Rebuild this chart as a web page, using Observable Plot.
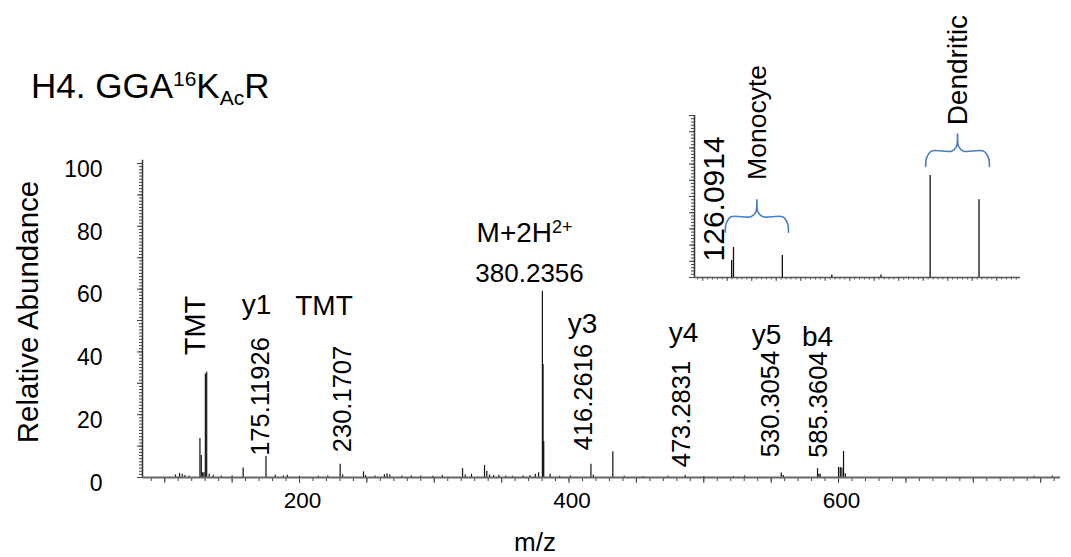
<!DOCTYPE html>
<html>
<head>
<meta charset="utf-8">
<script src="https://cdn.jsdelivr.net/npm/d3@7"></script>
<script src="https://cdn.jsdelivr.net/npm/@observablehq/plot@0.6"></script>
<style>
  html, body { margin: 0; padding: 0; background: #fff; }
  body { width: 1071px; height: 557px; overflow: hidden; font-family: "Liberation Sans", Arial, sans-serif; }
  #wrap { position: relative; width: 1071px; height: 557px; }
  #wrap svg { position: absolute; overflow: visible; }
  .lbl { position: absolute; color: #000; white-space: nowrap; line-height: 1; }
</style>
</head>
<body>
<div id="wrap">
  <div class="lbl" id="title" style="left:31px; top:68px; font-size:35px;">H4. GGA<span style="font-size:21px; position:relative; top:-12px;">16</span>K<span style="font-size:21px; position:relative; top:7px;">Ac</span>R</div>
  <div class="lbl" id="ylab" style="left:28px; top:312px; font-size:29.5px; transform: translate(-50%,-50%) rotate(-90deg); transform-origin: center;">Relative Abundance</div>
  <div class="lbl" id="xlab" style="left:535px; top:542px; font-size:26px; transform: translate(-50%,-50%);">m/z</div>
</div>
<script>
// ---------- main spectrum (m/z, relative abundance %) ----------
const mainMz = [108, 111, 113, 115, 118, 126.1277, 127.1248, 128.1344, 129.1378, 130.1411, 131.1382, 133, 136, 142, 150,
  158.2, 175.11926, 182, 188, 191, 200, 214, 221, 230.1707, 232, 247.5, 249, 256, 263, 265, 267, 276, 283, 290, 299, 306,
  321, 323, 327.6, 337.3, 339, 341, 344, 348, 353, 358, 366, 371, 375, 377.4, 380.2356, 380.7372, 381.2388, 386, 393, 401,
  416.2616, 418, 432.5, 441, 455, 473.2831, 486.2, 500, 522, 530.3054, 557.5, 559, 584.4, 585.3604, 586.4,
  600, 601.3, 602.5, 603.7, 605, 745, 758.6];
const mainInt = [0.8, 1.3, 1.0, 0.6, 0.5, 12.4, 7.0, 1.5, 1.5, 33.0, 33.5, 1.0, 0.6, 0.5, 0.5,
  3.0, 6.7, 0.7, 0.5, 0.7, 0.4, 0.4, 0.5, 4.2, 0.8, 1.8, 0.6, 0.5, 0.9, 1.1, 0.8, 0.5, 0.5, 0.5, 0.4, 0.6,
  2.8, 0.8, 1.0, 3.8, 2.0, 0.8, 0.6, 0.7, 0.5, 0.4, 0.5, 0.6, 1.0, 1.5, 59.3, 36.0, 11.5, 1.0, 0.4, 0.5,
  4.2, 0.7, 8.2, 0.4, 0.3, 0.4, 0.6, 0.3, 0.3, 0.5, 1.4, 0.6, 2.8, 1.0, 1.0,
  3.2, 3.2, 3.0, 8.3, 1.2, 0.4, 0.5];

// annotations of the main spectrum: text, anchor m/z, anchor abundance, rotated?, font size
const annText = ["TMT", "y1", "TMT", "175.11926", "230.1707", "M+2H2+", "380.2356", "y3", "416.2616", "y4", "473.2831", "y5", "530.3054", "b4", "585.3604"];
const annMz   = [122.8, 168.1, 218.2, 171.1, 231.9, 367.0, 370.7, 410.0, 410.8, 485.0, 483.5, 546.6, 549.6, 584.4, 585.2];
const annAb   = [48.4, 54.8, 54.6, 25.8, 25.0, 77.7, 65.0, 49.0, 25.6, 45.9, 20.2, 45.5, 23.4, 44.6, 23.2];
const annRot  = [true, false, false, true, true, false, false, false, true, false, true, false, true, false, true];
const annSize = [29, 28, 28, 25.5, 25.5, 28, 26, 28, 25.5, 28, 25.5, 28, 25.5, 28, 25.5];

// ---------- inset: TMT reporter region ----------
const insetMz  = [126.09, 126.1277, 127.1248, 128.1344, 129.1378, 130.1411, 131.1382];
const insetInt = [10.5, 18.5, 13.6, 1.5, 1.5, 63, 48];
const insetText = ["126.0914", "Monocyte", "Dendritic"];
const insetTextMz = [125.74, 126.62, 130.70];
const insetTextAb = [48.5, 95.7, 128];
const insetTextSize = [30, 26.5, 28];
// braces: name, from m/z, to m/z, base level
const braceName = ["Monocyte", "Dendritic"];
const braceFrom = [125.96, 130.05];
const braceTo   = [127.25, 131.35];
const braceBase = [28, 68.5];

// axis tick definitions
const xTickLabels = [200, 400, 600];
const yTickLabels = [0, 20, 40, 60, 80, 100];

const FONT = '"Liberation Sans", Arial, sans-serif';
const xDomain = [83.5, 764.7];

const peaks = mainMz.map((m, i) => ({mz: m, ab: mainInt[i]}));
const ann = annText.map((t, i) => ({t, mz: annMz[i], ab: annAb[i], rot: annRot[i], size: annSize[i]}));

const main = Plot.plot({
  width: 1071, height: 557,
  marginTop: 163, marginBottom: 80, marginLeft: 142, marginRight: 11,
  style: {fontFamily: FONT, color: "#000", background: "transparent", overflow: "visible"},
  x: {domain: xDomain},
  y: {domain: [0, 100]},
  marks: [
    Plot.axisY({ticks: d3.range(0, 101, 1), tickSize: 3, tickFormat: () => "", stroke: "#444", label: null}),
    Plot.axisY({ticks: d3.range(0, 101, 10), tickSize: 5, tickFormat: () => "", stroke: "#444", label: null}),
    Plot.axisY({ticks: yTickLabels, tickSize: 0, tickPadding: 40, fontSize: 23, dy: 6, label: null}),
    Plot.axisX({ticks: d3.range(90, 761, 10), tickSize: 4, tickFormat: () => "", stroke: "#444", label: null}),
    Plot.axisX({ticks: d3.range(100, 761, 50), tickSize: 6, tickFormat: () => "", stroke: "#444", label: null}),
    Plot.axisX({ticks: xTickLabels, tickSize: 0, tickPadding: 15, fontSize: 22.5, dx: 3, label: null}),
    Plot.ruleX([xDomain[0]], {y1: 0, y2: 101, stroke: "#333", strokeWidth: 1.5}),
    Plot.ruleX(peaks, {x: "mz", y1: 0, y2: "ab", stroke: "#111", strokeWidth: 1.2}),
    Plot.ruleY([0], {stroke: "#666", strokeWidth: 2}),
    Plot.text(ann.filter(d => d.rot), {x: "mz", y: "ab", text: "t", rotate: -90, fontSize: d => d.size, textAnchor: "middle", lineAnchor: "middle", fill: "#000"}),
    Plot.text(ann.filter(d => !d.rot), {x: "mz", y: "ab", text: "t", fontSize: d => d.size, textAnchor: "middle", lineAnchor: "middle", fill: "#000"})
  ]
});
main.style.left = "0px"; main.style.top = "0px";
document.getElementById("wrap").appendChild(main);

// superscript for M+2H2+
main.querySelectorAll("text").forEach(t => {
  if (t.textContent === "M+2H2+") {
    t.textContent = "M+2H";
    const ts = document.createElementNS("http://www.w3.org/2000/svg", "tspan");
    ts.setAttribute("dy", "-0.55em");
    ts.setAttribute("font-size", "18");
    ts.textContent = "2+";
    t.appendChild(ts);
  }
});

// inset
const insetDomain = [125.332, 131.985];
const ipeaks = insetMz.map((m, i) => ({mz: m, ab: insetInt[i]}));
const itext = insetText.map((t, i) => ({t, mz: insetTextMz[i], ab: insetTextAb[i], size: insetTextSize[i]}));
const braceLines = [];
braceName.forEach((name, i) => {
  const x0 = braceFrom[i], x1 = braceTo[i], xm = (x0 + x1) / 2;
  const e = braceBase[i], h = e + 9.5, tip = e + 20;
  const pts = [[x0, e], [x0 + 0.02, h - 4], [x0 + 0.12, h], [xm - 0.12, h], [xm - 0.02, h + 3], [xm, tip],
               [xm + 0.02, h + 3], [xm + 0.12, h], [x1 - 0.12, h], [x1 - 0.02, h - 4], [x1, e]];
  pts.forEach(p => braceLines.push({name, mz: p[0], ab: p[1]}));
});

const inset = Plot.plot({
  width: 345, height: 290,
  marginTop: 115, marginBottom: 13, marginLeft: 14, marginRight: 5,
  style: {fontFamily: FONT, color: "#000", background: "transparent", overflow: "visible"},
  x: {domain: insetDomain},
  y: {domain: [0, 100]},
  marks: [
    Plot.axisY({ticks: d3.range(0, 101, 2), tickSize: 3, tickFormat: () => "", stroke: "#444", label: null}),
    Plot.axisY({ticks: d3.range(0, 101, 10), tickSize: 5, tickFormat: () => "", stroke: "#444", label: null}),
    Plot.axisX({ticks: d3.range(1254, 1320, 1).map(d => d / 10), tickSize: 2.5, tickFormat: () => "", stroke: "#555", label: null}),
    Plot.axisX({ticks: d3.range(1255, 1320, 5).map(d => d / 10), tickSize: 4, tickFormat: () => "", stroke: "#555", label: null}),
    Plot.ruleX([insetDomain[0]], {y1: 0, y2: 100, stroke: "#333", strokeWidth: 1.5}),
    Plot.ruleY([0], {stroke: "#555", strokeWidth: 1.5}),
    Plot.ruleX(ipeaks, {x: "mz", y1: 0, y2: "ab", stroke: "#111", strokeWidth: 1.3}),
    Plot.line(braceLines, {x: "mz", y: "ab", z: "name", curve: "catmull-rom", stroke: "#4a7ec4", strokeWidth: 1.6}),
    Plot.text(itext, {x: "mz", y: "ab", text: "t", rotate: -90, fontSize: d => d.size, textAnchor: "middle", lineAnchor: "middle", fill: "#000"})
  ]
});
inset.style.left = "680px"; inset.style.top = "0px";
document.getElementById("wrap").appendChild(inset);
</script>
</body>
</html>
